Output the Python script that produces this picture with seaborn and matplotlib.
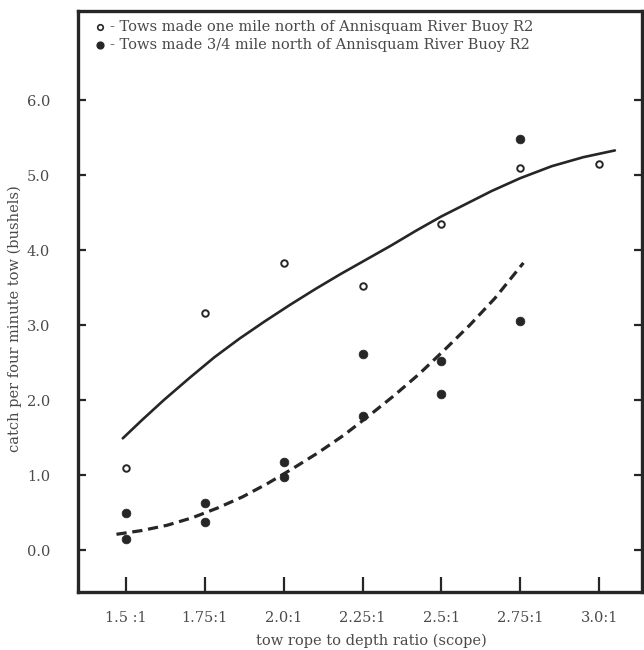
import numpy as np
import pandas as pd
import matplotlib
matplotlib.use("Agg")
import matplotlib.pyplot as plt
import seaborn as sns

# scope ratios (x) and catches (bushels)
open_x = [1.5, 1.75, 2.0, 2.25, 2.5, 2.75, 3.0]
open_y = [1.09, 3.16, 3.83, 3.52, 4.35, 5.09, 5.15]

filled_x = [1.5, 1.5, 1.75, 1.75, 2.0, 2.0, 2.25, 2.25, 2.5, 2.5, 2.75, 2.75]
filled_y = [0.49, 0.15, 0.63, 0.37, 1.17, 0.97, 2.61, 1.79, 2.52, 2.08, 3.05, 5.48]

# hand drawn fitted curves
solid_x = [1.49, 1.55, 1.62, 1.7, 1.78, 1.86, 1.94, 2.02, 2.1, 2.18, 2.26,
           2.34, 2.42, 2.5, 2.58, 2.66, 2.75, 2.85, 2.95, 3.05]
solid_y = [1.49, 1.73, 2.0, 2.29, 2.57, 2.82, 3.05, 3.27, 3.48, 3.68, 3.87,
           4.06, 4.26, 4.45, 4.62, 4.79, 4.96, 5.12, 5.24, 5.33]

dash_x = [1.47, 1.55, 1.63, 1.71, 1.79, 1.87, 1.95, 2.03, 2.11, 2.19, 2.27,
          2.35, 2.43, 2.51, 2.59, 2.67, 2.76]
dash_y = [0.21, 0.26, 0.33, 0.43, 0.56, 0.71, 0.89, 1.09, 1.3, 1.53, 1.79,
          2.06, 2.35, 2.67, 3.0, 3.36, 3.83]

tick_vals = [1.5, 1.75, 2.0, 2.25, 2.5, 2.75, 3.0]
tick_labels = ["1.5 :1", "1.75:1", "2.0:1", "2.25:1", "2.5:1", "2.75:1", "3.0:1"]
ytick_vals = [0, 1, 2, 3, 4, 5, 6]

legend_lines = ["Tows made one mile north of Annisquam River Buoy R2",
                "Tows made 3/4 mile north of Annisquam River Buoy R2"]

sns.set_style("ticks")
plt.rcParams["font.family"] = ["DejaVu Serif"]

ink = "#262626"
txt = "#4a4a4a"

fig = plt.figure(figsize=(6.44, 6.5), dpi=100)
ax = fig.add_axes([0.1211, 0.0892, 0.8758, 0.8939])

sns.lineplot(x=solid_x, y=solid_y, ax=ax, color=ink, lw=1.9, sort=False)
sns.lineplot(x=dash_x, y=dash_y, ax=ax, color=ink, lw=2.3, sort=False)
ax.lines[-1].set_dashes([3.2, 1.8])

sns.scatterplot(x=open_x, y=open_y, ax=ax, s=22, marker="o",
                facecolor="white", edgecolor=ink, linewidth=1.4, zorder=5)
sns.scatterplot(x=filled_x, y=filled_y, ax=ax, s=40, marker="o",
                color=ink, edgecolor=ink, linewidth=0.5, zorder=5)

ax.set_xlim(1.348, 3.136)
ax.set_ylim(-0.56, 7.19)

ax.set_xticks(tick_vals)
ax.set_xticklabels(tick_labels, fontsize=10.5, color=txt)
ax.set_yticks(ytick_vals)
ax.set_yticklabels([f"{v:.1f}" for v in ytick_vals], fontsize=10.5, color=txt)

ax.tick_params(axis="x", direction="in", length=11, width=1.6, color=ink, pad=14)
ax.tick_params(axis="y", direction="in", length=6, width=1.6, color=ink,
               right=True, pad=20)

for sp in ax.spines.values():
    sp.set_linewidth(2.4)
    sp.set_color(ink)

ax.set_xlabel("tow rope to depth ratio (scope)", fontsize=10.5, color=txt)
ax.xaxis.set_label_coords(0.52, -0.072)
ax.set_ylabel("catch per four minute tow (bushels)", fontsize=10.5, color=txt)
ax.yaxis.set_label_coords(-0.1, 0.47)

# legend drawn as text lines like the original key
ax.scatter([0.039], [0.972], transform=ax.transAxes, s=16, facecolor="white",
           edgecolor=ink, linewidth=1.2, zorder=6)
ax.scatter([0.039], [0.941], transform=ax.transAxes, s=24, color=ink, zorder=6)
ax.text(0.056, 0.972, "- " + legend_lines[0], transform=ax.transAxes,
        fontsize=10.5, color=txt, va="center")
ax.text(0.056, 0.941, "- " + legend_lines[1], transform=ax.transAxes,
        fontsize=10.5, color=txt, va="center")

fig.savefig("out.png", dpi=100)
